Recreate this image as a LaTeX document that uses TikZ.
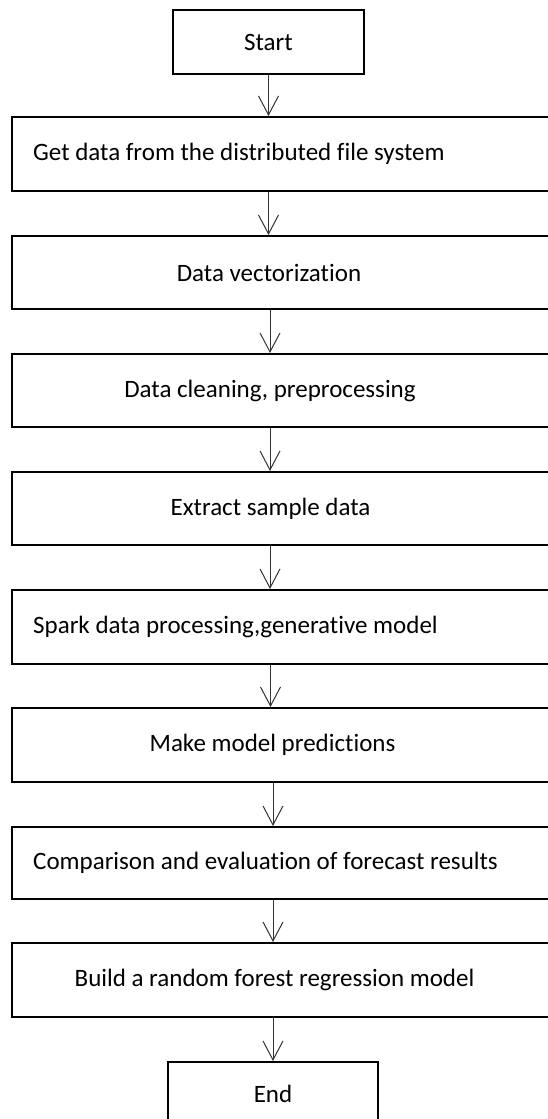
\documentclass[tikz,border=0pt]{standalone}
\usepackage{fontspec}
\setmainfont[Ligatures=NoCommon]{Carlito}
\usetikzlibrary{arrows.meta}
\begin{document}
\begin{tikzpicture}[x=1pt,y=-1pt,
  box/.style={draw=black,line width=2pt,minimum width=539pt,inner sep=0pt},
  endbox/.style={draw=black,line width=2pt,minimum height=64pt,minimum width=191pt,inner sep=0pt,font=\fontsize{25}{30}\selectfont},
  lbl/.style={inner sep=0pt,font=\fontsize{25}{30}\selectfont},
  arr/.style={draw=black!80,line width=1pt,-{Straight Barb[length=19pt,width=20pt,line width=1pt]}}]
\useasboundingbox (0,0) rectangle (548,1119);
\node[endbox] (s) at (268.5,42) {Start};
\node[box,minimum height=74pt] (b1) at (281.5,154) {};
\node[lbl,anchor=west] (t1) at (33,154) {Get data from the distributed file system};
\node[box,minimum height=73pt] (b2) at (281.5,272.5) {};
\node[lbl] (t2) at (269,272.5) {Data vectorization};
\node[box,minimum height=73pt] (b3) at (281.5,390.5) {};
\node[lbl] (t3) at (270,390.5) {Data cleaning, preprocessing};
\node[box,minimum height=73pt] (b4) at (281.5,508.5) {};
\node[lbl] (t4) at (270.5,508.5) {Extract sample data};
\node[box,minimum height=74pt] (b5) at (281.5,627) {};
\node[lbl,anchor=west] (t5) at (33,627) {Spark data processing,generative model};
\node[box,minimum height=74pt] (b6) at (281.5,745) {};
\node[lbl] (t6) at (272.5,745) {Make model predictions};
\node[box,minimum height=72pt] (b7) at (281.5,863) {};
\node[lbl,anchor=west] (t7) at (33,863) {Comparison and evaluation of forecast results};
\node[box,minimum height=74pt] (b8) at (281.5,980) {};
\node[lbl] (t8) at (274.5,980) {Build a random forest regression model};
\node[endbox,minimum width=210pt,minimum height=80pt] (e) at (273,1102) {};
\node[lbl] (te) at (273,1094) {End};
\draw[arr] (s.south) -- (b1.north -| s.south);
\draw[arr] (b1.south -| s.south) -- (b2.north -| s.south);
\draw[arr] (b2.south -| t3) -- (b3.north -| t3);
\draw[arr] (b3.south -| t3) -- (b4.north -| t3);
\draw[arr] (b4.south -| t3) -- (b5.north -| t3);
\draw[arr] (b5.south -| t4) -- (b6.north -| t4);
\draw[arr] (b6.south -| e.north) -- (b7.north -| e.north);
\draw[arr] (b7.south -| e.north) -- (b8.north -| e.north);
\draw[arr] (b8.south -| e.north) -- (e.north);
\end{tikzpicture}
\end{document}
